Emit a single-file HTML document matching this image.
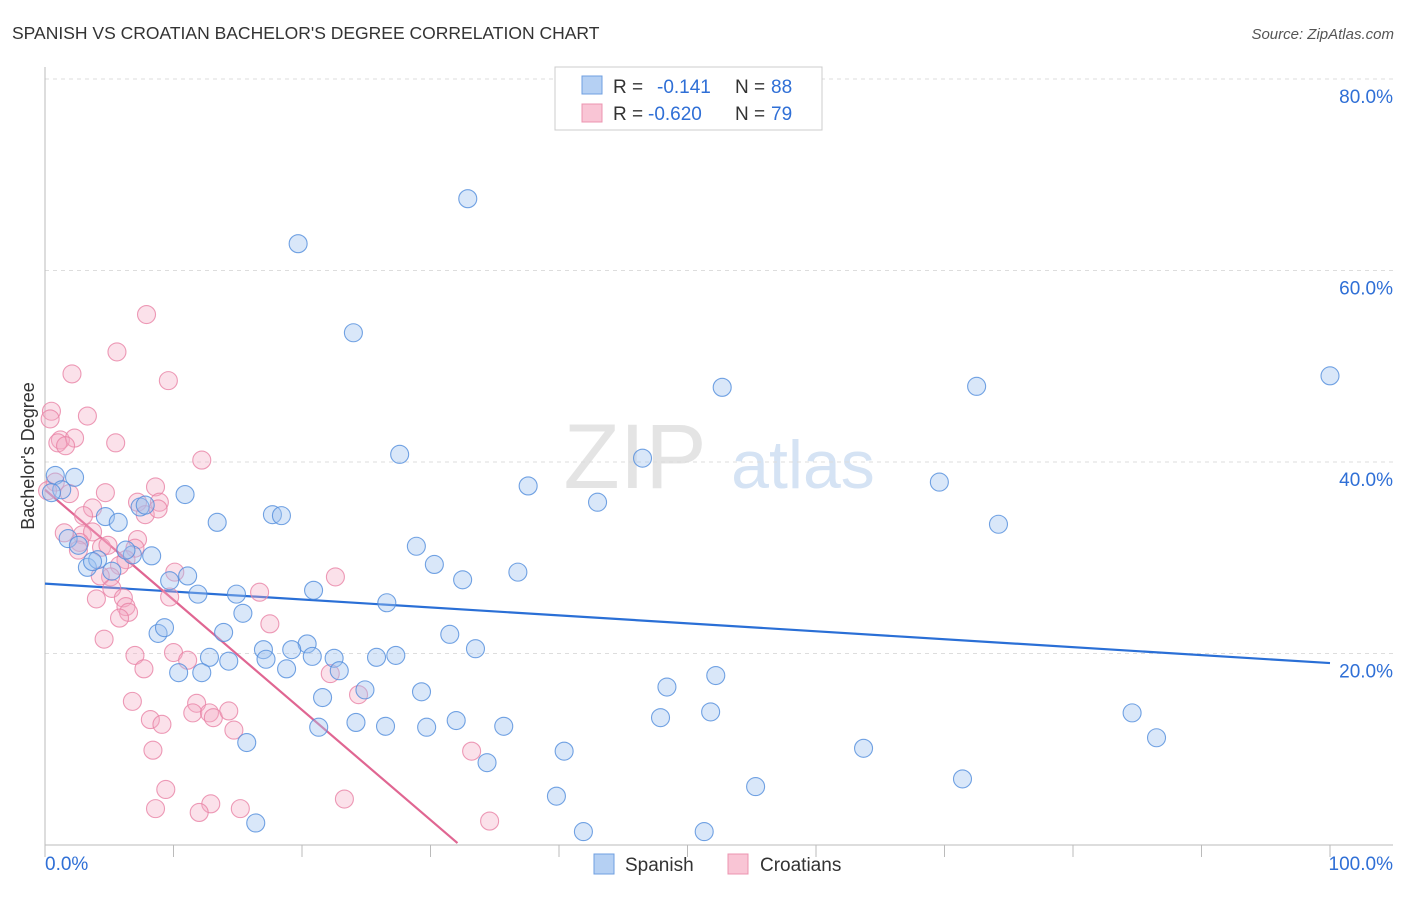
<!DOCTYPE html>
<html><head><meta charset="utf-8"><style>
body{margin:0;background:#fff;font-family:"Liberation Sans",sans-serif;}
svg text{font-family:"Liberation Sans",sans-serif;}
</style></head><body>
<svg id="chart" width="1406" height="892" xmlns="http://www.w3.org/2000/svg">
<text x="12" y="39" font-size="17.5" fill="#333">SPANISH VS CROATIAN BACHELOR'S DEGREE CORRELATION CHART</text>
<text x="1394" y="39" font-size="15" fill="#555" text-anchor="end" font-style="italic">Source: ZipAtlas.com</text>
<g>
<text x="635" y="488" font-size="92" fill="#e4e4e4" text-anchor="middle" font-family="Liberation Serif,serif">ZIP</text>
<text x="803" y="488" font-size="68" fill="#d5e3f4" text-anchor="middle">atlas</text>
</g>
<g id="grid"></g>
<g id="axes"></g>
<text transform="translate(34,456) rotate(-90)" font-size="18" fill="#333" text-anchor="middle">Bachelor's Degree</text>
<g id="lines"></g>
<g id="pts"></g>
<g>
<rect x="555" y="67" width="267" height="63" fill="#fff" stroke="#ccc"/>
<rect x="582" y="76" width="20" height="18" fill="#b5d0f3" stroke="#6f9fe0"/>
<rect x="582" y="104" width="20" height="18" fill="#f9c5d5" stroke="#ec94b0"/>
<text x="613" y="93" font-size="19" fill="#333">R = </text><text x="657" y="93" font-size="19" fill="#2f6fd6">-0.141</text>
<text x="735" y="93" font-size="19" fill="#333">N = </text><text x="771" y="93" font-size="19" fill="#2f6fd6">88</text>
<text x="613" y="120" font-size="19" fill="#333">R = </text><text x="648" y="120" font-size="19" fill="#2f6fd6">-0.620</text>
<text x="735" y="120" font-size="19" fill="#333">N = </text><text x="771" y="120" font-size="19" fill="#2f6fd6">79</text>
</g>
<g>
<rect x="594" y="854" width="20" height="20" fill="#b5d0f3" stroke="#6f9fe0"/>
<text x="625" y="871" font-size="19" fill="#333">Spanish</text>
<rect x="728" y="854" width="20" height="20" fill="#f9c5d5" stroke="#ec94b0"/>
<text x="760" y="871" font-size="19" fill="#333">Croatians</text>
</g>
</svg>
<script>
const blueX=[32.9,19.7,24.0,100,52.7,72.5,27.6,46.5,37.6,69.6,43.0,74.2,10.9,13.4,17.7,18.4,7.4,7.8,4.7,5.7,2.3,0.8,1.3,0.5,1.8,2.6,6.8,8.3,6.3,3.3,4.1,3.7,5.2,9.7,11.1,11.9,14.9,28.9,30.3,32.5,36.8,20.9,26.6,8.8,9.3,13.9,15.4,17.0,17.2,20.4,19.2,20.8,22.5,22.9,25.8,27.3,31.5,33.5,12.8,14.3,10.4,12.2,18.8,21.6,24.9,29.3,24.2,26.5,29.7,32.0,35.7,21.3,15.7,34.4,40.4,39.8,41.9,48.4,52.2,47.9,51.8,63.7,55.3,51.3,71.4,84.6,86.5,16.4];
const blueY=[67.5,62.8,53.5,49.0,47.8,47.9,40.8,40.4,37.5,37.9,35.8,33.5,36.6,33.7,34.5,34.4,35.3,35.5,34.3,33.7,38.4,38.6,37.1,36.8,32.0,31.3,30.3,30.2,30.8,29.0,29.8,29.6,28.6,27.6,28.1,26.2,26.2,31.2,29.3,27.7,28.5,26.6,25.3,22.1,22.7,22.2,24.2,20.4,19.4,21.0,20.4,19.7,19.5,18.2,19.6,19.8,22.0,20.5,19.6,19.2,18.0,18.0,18.4,15.4,16.2,16.0,12.8,12.4,12.3,13.0,12.4,12.3,10.7,8.6,9.8,5.1,1.4,16.5,17.7,13.3,13.9,10.1,6.1,1.4,6.9,13.8,11.2,2.3];
const pinkX=[7.9,5.6,2.1,9.6,0.5,3.3,0.4,1.2,1.0,2.3,1.6,5.5,12.2,0.8,1.9,4.7,8.6,7.2,8.9,7.8,8.8,3.7,3.0,1.5,2.9,3.7,2.7,4.4,4.9,2.6,7.2,7.0,6.3,5.8,10.1,5.1,4.3,22.6,16.7,5.2,4.0,6.1,9.7,6.3,6.5,5.8,17.5,4.6,7.0,10.0,11.1,7.7,22.2,24.4,6.8,11.8,8.2,9.1,11.5,12.8,13.1,14.3,14.7,8.4,33.2,9.4,8.6,12.9,12.0,15.2,23.3,34.6,0.2];
const pinkY=[55.4,51.5,49.2,48.5,45.3,44.8,44.5,42.3,42.0,42.5,41.7,42.0,40.2,37.9,36.7,36.8,37.4,35.8,35.8,34.5,35.1,35.2,34.4,32.6,32.4,32.7,31.6,31.1,31.3,30.8,31.9,31.0,29.8,29.2,28.5,28.0,28.1,28.0,26.4,26.8,25.7,25.8,25.9,24.9,24.3,23.7,23.1,21.5,19.8,20.1,19.3,18.4,17.9,15.7,15.0,14.8,13.1,12.6,13.8,13.8,13.3,14.0,12.0,9.9,9.8,5.8,3.8,4.3,3.4,3.8,4.8,2.5,37.0];
const blueTrend=[27.3,19.0];
const pinkTrend=[37.1,0.2,32.1];
const yTicks=[20,40,60,80];
const yTickLabels=["20.0%","40.0%","60.0%","80.0%"];
const xTicks=[0,10,20,30,40,50,60,70,80,90,100];
const NS="http://www.w3.org/2000/svg";
const X0=45,X1=1330,Y0=845,Y80=79;
function sx(v){return X0+(X1-X0)*v/100;}
function sy(v){return Y0-(Y0-Y80)*v/80;}
function mk(tag,attrs,parent){const e=document.createElementNS(NS,tag);for(const k in attrs)e.setAttribute(k,attrs[k]);parent.appendChild(e);return e;}
const grid=document.getElementById('grid'),axes=document.getElementById('axes'),lines=document.getElementById('lines'),pts=document.getElementById('pts');
yTicks.forEach((t,i)=>{
 const l=mk('line',{x1:X0,x2:1393,y1:sy(t),y2:sy(t),stroke:'#ddd','stroke-dasharray':'4,4'},grid);
 
 
 const tx=mk('text',{x:1393,y:sy(t)+24,'font-size':19,fill:'#2f6fd6','text-anchor':'end'},axes);
 tx.textContent=yTickLabels[i];
 
 
});
const yl=mk('line',{x1:X0,x2:X0,y1:67,y2:Y0,stroke:'#bbb'},axes);


const xl=mk('line',{x1:X0,x2:1393,y1:Y0,y2:Y0,stroke:'#bbb'},axes);


xTicks.forEach(t=>{
 const k=mk('line',{x1:sx(t),x2:sx(t),y1:Y0,y2:Y0+12,stroke:'#bbb'},axes);
 
 
});
const xa=mk('text',{x:45,y:870,'font-size':19,fill:'#2f6fd6'},axes);xa.textContent='0.0%';


const xb=mk('text',{x:1393,y:870,'font-size':19,fill:'#2f6fd6','text-anchor':'end'},axes);xb.textContent='100.0%';


pinkX.forEach((x,i)=>{
 const c=mk('circle',{cx:sx(x),cy:sy(pinkY[i]),r:9,fill:'rgba(244,170,195,0.35)',stroke:'rgba(232,130,165,0.8)','stroke-width':1.1},pts);
 
 
});
blueX.forEach((x,i)=>{
 const c=mk('circle',{cx:sx(x),cy:sy(blueY[i]),r:9,fill:'rgba(160,196,240,0.4)',stroke:'rgba(80,140,220,0.8)','stroke-width':1.1},pts);
 
 
});
const bl=mk('line',{x1:sx(0),y1:sy(blueTrend[0]),x2:sx(100),y2:sy(blueTrend[1]),stroke:'#2a6fd6','stroke-width':2.2},lines);


const pl=mk('line',{x1:sx(0),y1:sy(pinkTrend[0]),x2:sx(pinkTrend[2]),y2:sy(pinkTrend[1]),stroke:'#e06692','stroke-width':2.2},lines);


</script>
</body></html>
